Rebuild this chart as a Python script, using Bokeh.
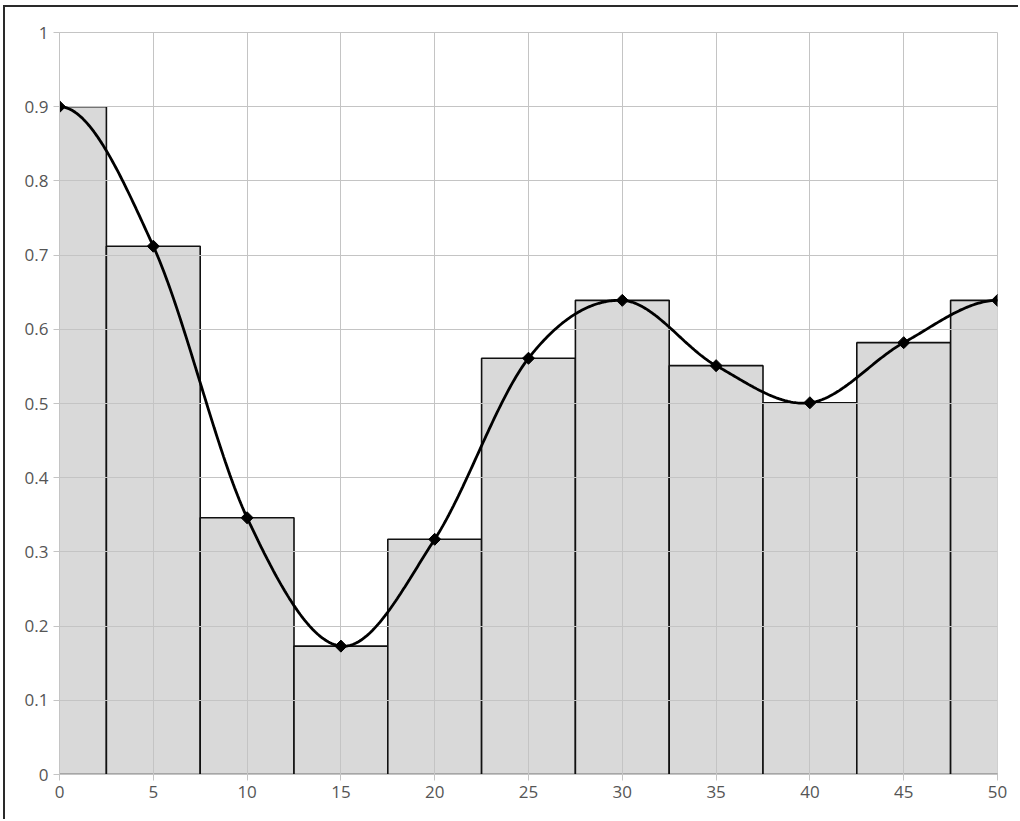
import numpy as np
from bokeh.plotting import figure
from bokeh.models import FixedTicker
from bokeh.embed import file_html
from bokeh.resources import INLINE

x_vals = [0, 5, 10, 15, 20, 25, 30, 35, 40, 45, 50]
y_vals = [0.900, 0.712, 0.346, 0.173, 0.317, 0.561, 0.639, 0.551, 0.501, 0.582, 0.639]
bar_width = 5
x_ticks = [0, 5, 10, 15, 20, 25, 30, 35, 40, 45, 50]
y_ticks = [0, 0.1, 0.2, 0.3, 0.4, 0.5, 0.6, 0.7, 0.8, 0.9, 1]
y_tick_labels = {0: "0", 0.1: "0.1", 0.2: "0.2", 0.3: "0.3", 0.4: "0.4", 0.5: "0.5",
                 0.6: "0.6", 0.7: "0.7", 0.8: "0.8", 0.9: "0.9", 1: "1"}


def hermite_curve(xs, ys, steps=60):
    xs = np.asarray(xs, float)
    ys = np.asarray(ys, float)
    m = len(xs)
    tang = np.zeros(m)
    for i in range(1, m - 1):
        tang[i] = (ys[i + 1] - ys[i - 1]) / (xs[i + 1] - xs[i - 1])
    out_x, out_y = [], []
    for i in range(m - 1):
        h = xs[i + 1] - xs[i]
        t = np.linspace(0, 1, steps, endpoint=(i == m - 2))
        h00 = 2 * t ** 3 - 3 * t ** 2 + 1
        h10 = t ** 3 - 2 * t ** 2 + t
        h01 = -2 * t ** 3 + 3 * t ** 2
        h11 = t ** 3 - t ** 2
        out_x.extend(xs[i] + t * h)
        out_y.extend(h00 * ys[i] + h10 * h * tang[i] + h01 * ys[i + 1] + h11 * h * tang[i + 1])
    return out_x, out_y


p = figure(width=1015, height=814, x_range=(0, 50), y_range=(0, 1),
           output_backend="svg", toolbar_location=None,
           min_border_left=54, min_border_right=23, min_border_top=25, min_border_bottom=47)
p.styles = {"margin-left": "3px", "margin-top": "5px",
            "border-left": "2px solid #2a2a2a", "border-top": "2px solid #2a2a2a"}

grid_color = "#c4c4c4"
label_color = "#555555"

left = [x - bar_width / 2 for x in x_vals]
right = [x + bar_width / 2 for x in x_vals]
bars = p.quad(left=left, right=right, bottom=0, top=y_vals,
              fill_color="#d9d9d9", line_color="#111111", line_width=1.6)
bars.level = "image"

sx, sy = hermite_curve(x_vals, y_vals)
p.line(sx, sy, line_color="black", line_width=2.8)
p.scatter(x_vals, y_vals, marker="square", angle=np.pi / 4, size=8.5,
          fill_color="black", line_color="black")

p.xaxis.ticker = FixedTicker(ticks=x_ticks)
p.yaxis.ticker = FixedTicker(ticks=y_ticks)
p.yaxis.major_label_overrides = y_tick_labels

for ax in [p.xaxis[0], p.yaxis[0]]:
    ax.axis_line_color = grid_color
    ax.major_tick_line_color = grid_color
    ax.major_tick_out = 6
    ax.major_tick_in = 0
    ax.minor_tick_line_color = None
    ax.major_label_text_font = "Open Sans"
    ax.major_label_text_font_size = "17px"
    ax.major_label_text_color = label_color
    ax.major_label_standoff = 5

p.xgrid.ticker = FixedTicker(ticks=x_ticks)
p.ygrid.ticker = FixedTicker(ticks=y_ticks)
p.grid.grid_line_color = grid_color
p.grid.grid_line_width = 1
p.outline_line_color = grid_color
p.background_fill_color = "white"
p.border_fill_color = "white"

open("out.html", "w").write(file_html(p, INLINE))
